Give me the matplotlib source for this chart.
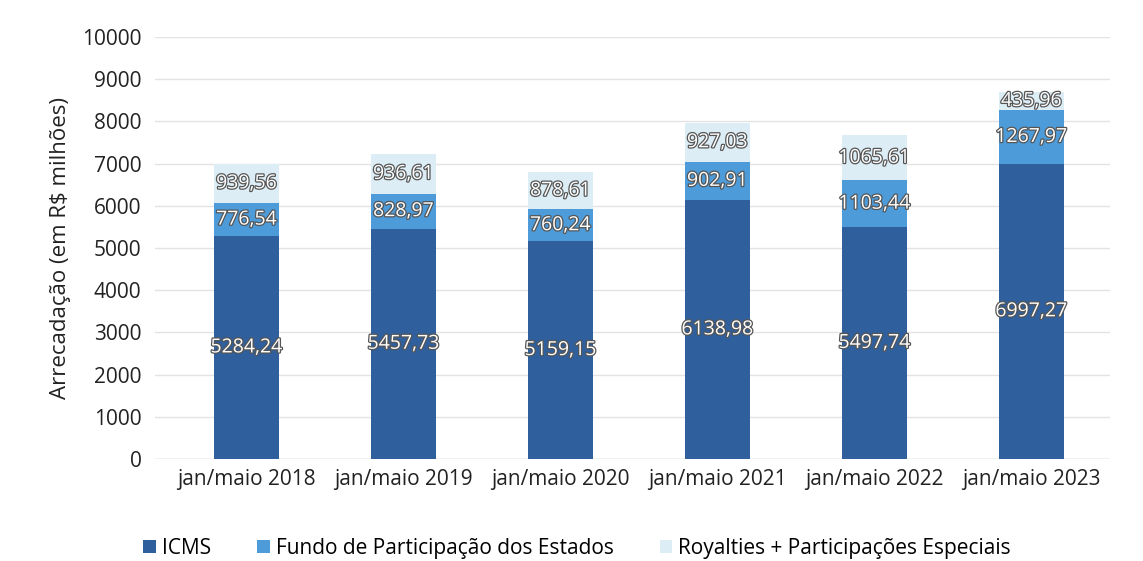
import matplotlib
matplotlib.use('Agg')
import matplotlib.pyplot as plt
import matplotlib.patheffects as pe
import numpy as np

plt.rcParams['font.family'] = ['Open Sans', 'DejaVu Sans']

periods = ['jan/maio 2018', 'jan/maio 2019', 'jan/maio 2020',
           'jan/maio 2021', 'jan/maio 2022', 'jan/maio 2023']
icms = [5284.24, 5457.73, 5159.15, 6138.98, 5497.74, 6997.27]
fpe = [776.54, 828.97, 760.24, 902.91, 1103.44, 1267.97]
royalties = [939.56, 936.61, 878.61, 927.03, 1065.61, 435.96]

series = [
    ('ICMS', icms, '#2f5f9c'),
    ('Fundo de Participação dos Estados', fpe, '#4d9bd8'),
    ('Royalties + Participações Especiais', royalties, '#dcedf5'),
]


def fmt(v):
    return f"{v:.2f}".replace('.', ',')


fig = plt.figure(figsize=(11.43, 5.61), dpi=100)
ax = fig.add_axes([0.136, 0.182, 0.835, 0.752])

x = np.arange(len(periods))
bottom = np.zeros(len(periods))
for name, vals, color in series:
    vals = np.array(vals)
    ax.bar(x, vals, 0.41, bottom=bottom, color=color, label=name, zorder=2)
    for xi, b, v in zip(x, bottom, vals):
        ax.text(xi, b + v / 2, fmt(v), ha='center', va='center',
                fontsize=14, color='white', zorder=3,
                path_effects=[pe.withStroke(linewidth=1.8, foreground='#555555')])
    bottom += vals

ax.set_ylim(0, 10000)
ax.set_xlim(-0.58, 5.5)
ax.set_yticks(range(0, 10001, 1000))
ax.set_xticks(x)
ax.set_xticklabels(periods)
ax.tick_params(axis='both', length=0, labelsize=15, colors='#222222')
ax.tick_params(axis='y', pad=10)
ax.tick_params(axis='x', pad=7)
ax.set_ylabel('Arrecadação (em R$ milhões)', fontsize=16, color='#222222', labelpad=8)
ax.yaxis.grid(True, color='#e3e3e3', linewidth=1, zorder=0)
for s in ax.spines.values():
    s.set_visible(False)
ax.axhline(0, color='#d0d0d0', linewidth=1, zorder=1)

fig.legend(loc='lower center', bbox_to_anchor=(0.505, -0.03), ncol=3,
           frameon=False, fontsize=15, handlelength=0.6, handleheight=0.6,
           columnspacing=2.2, handletextpad=0.3)

fig.savefig('out.png', dpi=100)
